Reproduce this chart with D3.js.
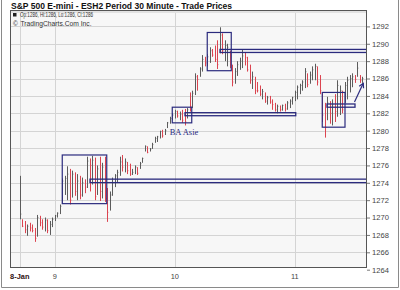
<!DOCTYPE html>
<html>
<head>
<meta charset="utf-8">
<script src="https://cdn.jsdelivr.net/npm/d3@7"></script>
<style>
  body { margin: 0; background: #fff; }
  svg { display: block; font-family: "Liberation Sans", Arial, sans-serif; }
</style>
</head>
<body>
<div id="chart"></div>
<script>
// 30 minute bars, ESH2, 8-11 Jan
var highs = [1274.8,1269.8,1269.6,1269.2,1269.4,1269.2,1268.8,1270.3,1270.2,1269.8,
  1270.0,1269.8,1269.6,1270.0,1270.3,1270.6,1271.5,1274.5,1274.8,1275.9,
  1275.6,1275.4,1275.2,1275.0,1274.8,1274.6,1274.4,1277.0,1276.8,1277.1,
  1276.9,1276.0,1277.0,1276.3,1277.0,1273.4,1273.0,1274.6,1275.0,1275.5,
  1277.0,1277.2,1276.8,1276.4,1276.2,1275.6,1276.0,1275.8,1276.4,1276.9,
  1278.3,1278.2,1278.0,1278.6,1279.3,1279.4,1280.0,1280.1,1280.2,1281.0,
  1281.6,1282.0,1282.4,1282.3,1282.2,1282.4,1282.5,1282.6,1284.4,1284.6,
  1286.6,1286.4,1287.3,1288.7,1288.5,1288.8,1289.6,1289.4,1289.8,1290.4,
  1291.9,1291.2,1290.4,1290.0,1289.2,1287.6,1287.2,1288.0,1288.4,1289.3,
  1289.0,1288.5,1287.6,1286.8,1286.2,1285.6,1285.2,1284.8,1284.4,1284.0,
  1284.0,1283.6,1283.2,1283.0,1282.9,1283.0,1283.1,1283.4,1283.6,1283.9,
  1284.6,1285.2,1285.4,1285.8,1287.2,1286.6,1286.8,1287.4,1287.7,1287.4,
  1286.4,1284.4,1283.2,1283.9,1283.4,1283.6,1284.2,1285.8,1285.2,1284.6,
  1285.6,1286.2,1286.4,1286.6,1286.4,1287.9,1286.4,1286.2];
var lows = [1269.8,1268.9,1268.2,1267.9,1268.4,1268.3,1267.2,1267.8,1269.0,1268.6,
  1268.4,1268.2,1268.0,1268.9,1269.6,1270.0,1270.4,1271.6,1272.6,1272.0,
  1271.5,1272.3,1272.5,1272.0,1272.1,1272.4,1272.8,1273.4,1273.0,1273.8,
  1272.0,1272.6,1271.9,1272.2,1271.8,1269.5,1270.8,1272.5,1273.5,1274.0,
  1274.8,1275.3,1275.2,1275.0,1274.8,1274.9,1275.0,1274.9,1275.6,1276.3,
  1277.6,1277.4,1277.6,1277.9,1278.6,1278.7,1279.1,1279.2,1279.5,1280.3,
  1280.8,1281.2,1281.4,1281.5,1281.2,1280.9,1280.6,1281.4,1282.2,1282.6,
  1284.1,1284.6,1286.2,1286.8,1287.4,1287.4,1287.8,1288.5,1287.9,1287.1,
  1288.9,1288.8,1288.0,1287.4,1287.2,1285.1,1285.4,1286.3,1287.0,1287.2,
  1287.5,1286.8,1285.4,1284.8,1284.2,1284.4,1284.0,1283.6,1283.2,1283.0,
  1283.1,1282.4,1282.2,1282.0,1282.2,1282.3,1282.2,1282.4,1282.6,1283.0,
  1283.4,1283.6,1284.2,1284.6,1284.9,1285.0,1285.4,1285.8,1285.8,1285.2,
  1284.2,1281.0,1279.2,1281.2,1280.8,1280.6,1281.0,1281.6,1281.8,1282.0,
  1283.2,1283.6,1284.4,1285.0,1285.5,1286.2,1285.5,1285.5];
var opens = [1270.0,1269.6,1269.0,1268.5,1269.0,1268.8,1268.5,1267.8,1270.0,1269.4,
  1268.9,1269.6,1268.5,1269.2,1269.8,1270.1,1270.5,1271.7,1273.0,1274.5,
  1275.0,1272.2,1275.0,1273.0,1274.2,1272.6,1274.0,1273.5,1276.5,1276.0,
  1276.6,1272.4,1275.6,1273.0,1275.8,1272.2,1270.6,1272.6,1274.0,1274.8,
  1275.2,1276.4,1275.8,1276.4,1275.4,1275.0,1275.2,1275.8,1275.8,1276.4,
  1277.7,1278.0,1277.7,1278.0,1278.7,1278.8,1279.2,1279.9,1279.6,1280.4,
  1280.9,1281.4,1281.6,1282.2,1281.7,1281.9,1282.2,1281.5,1284.0,1282.8,
  1284.3,1286.2,1286.3,1287.0,1288.2,1287.6,1288.4,1289.2,1289.6,1290.2,
  1289.2,1290.8,1289.2,1288.4,1289.0,1287.4,1285.6,1286.8,1287.6,1288.0,
  1288.6,1288.4,1287.4,1285.8,1286.0,1285.4,1285.0,1284.0,1284.2,1283.4,
  1283.8,1283.3,1283.0,1282.4,1282.8,1282.4,1282.9,1282.5,1283.2,1283.4,
  1283.8,1284.4,1285.0,1285.2,1285.6,1286.6,1285.3,1286.4,1287.0,1287.2,
  1285.8,1284.2,1283.0,1281.0,1283.2,1281.6,1283.0,1282.0,1282.4,1284.4,
  1283.4,1284.0,1285.0,1285.6,1286.2,1286.4,1286.4,1285.8];
var closes = [1270.4,1269.0,1268.6,1269.0,1268.8,1268.5,1267.6,1270.0,1269.4,1268.9,
  1269.7,1268.5,1269.2,1269.8,1270.2,1270.5,1271.3,1274.2,1274.5,1275.0,
  1272.0,1275.0,1273.0,1274.2,1272.6,1274.0,1273.5,1276.5,1276.0,1276.6,
  1272.4,1275.6,1273.0,1275.8,1272.2,1270.6,1272.6,1274.0,1274.8,1275.2,
  1276.4,1275.8,1276.4,1275.4,1275.0,1275.2,1275.8,1275.1,1276.2,1276.8,
  1278.2,1277.5,1277.9,1278.4,1279.1,1279.3,1279.9,1279.4,1280.0,1280.9,
  1281.4,1281.8,1282.2,1281.7,1281.9,1281.2,1281.0,1282.4,1282.8,1284.3,
  1286.2,1285.9,1287.1,1288.2,1287.8,1288.5,1289.2,1288.7,1288.2,1287.6,
  1291.0,1289.2,1289.8,1289.6,1287.6,1285.6,1286.8,1287.6,1288.0,1288.6,
  1288.4,1287.0,1285.8,1286.2,1284.6,1284.6,1284.2,1284.5,1283.4,1283.8,
  1283.3,1283.0,1282.4,1282.8,1282.4,1282.9,1282.5,1283.2,1283.4,1283.8,
  1284.4,1285.0,1285.2,1285.6,1286.8,1285.3,1286.4,1287.0,1287.4,1285.6,
  1284.6,1281.8,1280.4,1283.2,1282.0,1283.0,1282.2,1285.2,1284.6,1282.4,
  1285.2,1285.8,1286.0,1286.2,1285.9,1287.2,1285.8,1286.0];

var dayIdx = [0, 14, 62, 110];
var dayLabels = ["8-Jan", "9", "10", "11"];
var priceTicks = [1264,1266,1268,1270,1272,1274,1276,1278,1280,1282,1284,1286,1288,1290,1292];

// hand drawn annotations: bar index range and price range
var boxes = [
  {i0: 17.0, i1: 34.8, p0: 1271.6, p1: 1277.2},
  {i0: 61.0, i1: 68.8, p0: 1280.9, p1: 1282.7},
  {i0: 75.0, i1: 84.6, p0: 1286.9, p1: 1291.3},
  {i0: 121.0, i1: 130.1, p0: 1280.4, p1: 1284.4}
];
var bands = [
  {i0: 80.1, i1: 138.9, p0: 1289.0, p1: 1289.35},
  {i0: 66.1, i1: 110.4, p0: 1281.72, p1: 1282.07},
  {i0: 28.1, i1: 138.8, p0: 1274.02, p1: 1274.42},
  {i0: 122.9, i1: 134.1, p0: 1282.7, p1: 1283.07}
];
var arrow = {i0: 133.9, p0: 1283.3, i1: 137.4, p1: 1285.45};
var note = {i: 65.7, p: 1279.55, text: "BA Asie"};

var W = 400, H = 290;
var pL = 10, pR = 367, pT = 10, pB = 268;
var navy = "#2b2b7e";

var svg = d3.select("#chart").append("svg")
  .attr("width", W).attr("height", H);

var x = d3.scaleLinear().domain([-3.9, 138.9]).range([pL, pR]);
var y = d3.scaleLinear().domain([1266, 1292]).range([252.3, 26.4]);

// outer frame
svg.append("path")
  .attr("d", "M1.5,0 V287.5 H398.5 V0")
  .attr("fill", "none").attr("stroke", "#8a8a8a");

svg.append("text")
  .attr("x", 11).attr("y", 9)
  .attr("font-size", "8.6px").attr("font-weight", "bold").attr("fill", "#111")
  .attr("textLength", 221).attr("lengthAdjust", "spacingAndGlyphs")
  .text("S&P 500 E-mini - ESH2 Period 30 Minute - Trade Prices");

// plot background
svg.append("rect")
  .attr("x", pL).attr("y", pT).attr("width", pR - pL).attr("height", pB - pT)
  .attr("fill", "#f7f7f7");
svg.append("rect")
  .attr("x", pL).attr("y", pT).attr("width", pR - pL).attr("height", 3)
  .attr("fill", "#e2e2e2");

svg.append("clipPath").attr("id", "plotclip")
  .append("rect").attr("x", pL).attr("y", pT)
  .attr("width", pR - pL).attr("height", pB - pT);

// grid
svg.append("g").selectAll("line")
  .data(priceTicks.filter(function(d){ return y(d) > pT + 1 && y(d) < pB - 1; }))
  .enter().append("line")
    .attr("x1", pL).attr("x2", pR)
    .attr("y1", function(d){ return Math.round(y(d)) + 0.5; })
    .attr("y2", function(d){ return Math.round(y(d)) + 0.5; })
    .attr("stroke", "#d4d4d4");
svg.append("g").selectAll("line")
  .data(dayIdx)
  .enter().append("line")
    .attr("y1", pT + 3).attr("y2", pB)
    .attr("x1", function(d){ return Math.round(x(d)) + 0.5; })
    .attr("x2", function(d){ return Math.round(x(d)) + 0.5; })
    .attr("stroke", "#d4d4d4");

// legend
svg.append("rect").attr("x", 13).attr("y", 13).attr("width", 3.5).attr("height", 3.5).attr("fill", "#222");
svg.append("text").attr("x", 20).attr("y", 17.2)
  .attr("font-size", "6.4px").attr("fill", "#333")
  .attr("textLength", 73).attr("lengthAdjust", "spacingAndGlyphs")
  .text("Op:1286, Hi:1286, Lo:1286, Cl:1286");
svg.append("text").attr("x", 13).attr("y", 25.6)
  .attr("font-size", "6.6px").attr("fill", "#333")
  .text("\u00a9");
svg.append("text").attr("x", 20.5).attr("y", 25.6)
  .attr("font-size", "6.6px").attr("fill", "#333")
  .attr("textLength", 71).attr("lengthAdjust", "spacingAndGlyphs")
  .text("TradingCharts.Com Inc.");

// OHLC bars
var bars = highs.map(function(h, i){
  return {i: i, h: h, l: lows[i], o: opens[i], c: closes[i]};
});
var g = svg.append("g").attr("clip-path", "url(#plotclip)");
var bar = g.selectAll("g.bar").data(bars).enter().append("g")
  .attr("stroke", function(d){ return d.c >= d.o ? "#5c5c5c" : "#dc4450"; })
  .attr("stroke-width", 1);
bar.append("line")
  .attr("x1", function(d){ return Math.round(x(d.i)) + 0.5; })
  .attr("x2", function(d){ return Math.round(x(d.i)) + 0.5; })
  .attr("y1", function(d){ return y(d.h); })
  .attr("y2", function(d){ return y(d.l); });
bar.append("line")
  .attr("x1", function(d){ return Math.round(x(d.i)) + 0.5; })
  .attr("x2", function(d){ return Math.round(x(d.i)) + 1.5; })
  .attr("y1", function(d){ return y(d.c); })
  .attr("y2", function(d){ return y(d.c); })
  .attr("stroke-opacity", 0.6);

// annotations
var ann = svg.append("g").attr("clip-path", "url(#plotclip)")
  .attr("fill", "none").attr("stroke", navy).attr("stroke-width", 1.2);
ann.selectAll("rect.box").data(boxes).enter().append("rect")
  .attr("x", function(d){ return x(d.i0); })
  .attr("y", function(d){ return y(d.p1); })
  .attr("width", function(d){ return x(d.i1) - x(d.i0); })
  .attr("height", function(d){ return y(d.p0) - y(d.p1); });
ann.selectAll("rect.band").data(bands).enter().append("rect")
  .attr("x", function(d){ return x(d.i0); })
  .attr("y", function(d){ return y(d.p1); })
  .attr("width", function(d){ return x(d.i1) - x(d.i0); })
  .attr("height", function(d){ return y(d.p0) - y(d.p1); })
  .attr("stroke-width", 1.3);

var ax0 = x(arrow.i0), ay0 = y(arrow.p0), ax1 = x(arrow.i1), ay1 = y(arrow.p1);
var ang = Math.atan2(ay1 - ay0, ax1 - ax0);
ann.append("line")
  .attr("x1", ax0).attr("y1", ay0).attr("x2", ax1).attr("y2", ay1);
ann.append("path")
  .attr("d", "M" + (ax1 - 5 * Math.cos(ang - 0.5)) + "," + (ay1 - 5 * Math.sin(ang - 0.5)) +
    " L" + ax1 + "," + ay1 +
    " L" + (ax1 - 5 * Math.cos(ang + 0.5)) + "," + (ay1 - 5 * Math.sin(ang + 0.5)));

svg.append("text")
  .attr("x", x(note.i)).attr("y", y(note.p))
  .attr("text-anchor", "middle")
  .attr("font-family", "'Liberation Serif', 'Times New Roman', serif")
  .attr("font-size", "8.5px").attr("fill", navy)
  .text(note.text);

// plot frame
svg.append("rect")
  .attr("x", pL + 0.5).attr("y", pT + 0.5)
  .attr("width", pR - pL - 1).attr("height", pB - pT - 1)
  .attr("fill", "none").attr("stroke", "#555");

// price axis on the right
var yAxis = d3.axisRight(y).tickValues(priceTicks).tickSize(3).tickPadding(2)
  .tickFormat(d3.format("d"));
var ya = svg.append("g").attr("transform", "translate(" + pR + ",0)").call(yAxis);
ya.select(".domain").remove();
ya.selectAll("line").attr("stroke", "#777");
ya.selectAll("text").attr("font-size", "7.6px").attr("fill", "#444")
  .attr("font-family", "'Liberation Sans', Arial, sans-serif");

// day labels
svg.append("g").selectAll("text")
  .data(dayIdx)
  .enter().append("text")
    .attr("x", function(d){ return x(d); })
    .attr("y", 278.5)
    .attr("text-anchor", "middle")
    .attr("font-size", "7.4px")
    .attr("font-weight", function(d, i){ return i == 0 ? "bold" : "normal"; })
    .attr("fill", function(d, i){ return i == 0 ? "#301010" : "#444"; })
    .text(function(d, i){ return dayLabels[i]; });
</script>
</body>
</html>
